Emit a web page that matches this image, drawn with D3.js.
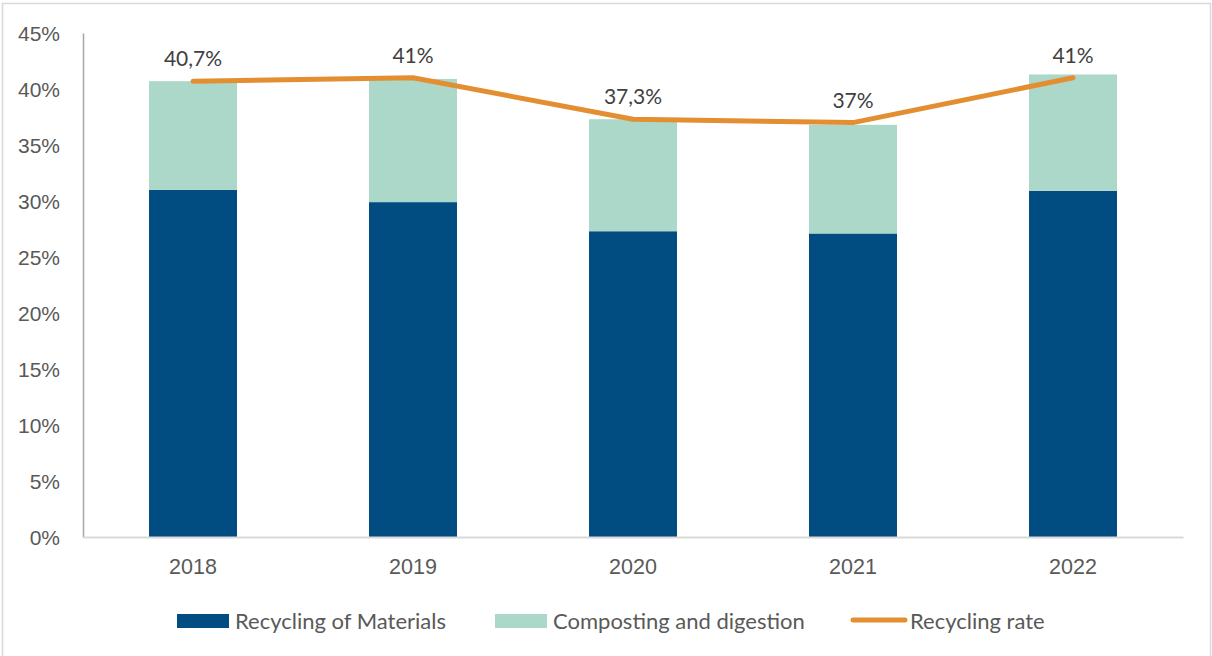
<!DOCTYPE html>
<html>
<head>
<meta charset="utf-8">
<script src="https://cdn.jsdelivr.net/npm/d3@7"></script>
<style>
  html, body { margin: 0; padding: 0; background: #fff; }
  svg { display: block; font-family: Lato, "Liberation Sans", sans-serif; }
</style>
</head>
<body>
<svg id="chart" width="1212" height="656"></svg>
<script>
// Years on the x axis
const years = ["2018", "2019", "2020", "2021", "2022"];
// Share of waste recycled as materials (%)
const recyclingMaterials = [31.0, 29.9, 27.3, 27.1, 30.9];
// Share of waste composted or digested (%)
const compostingDigestion = [9.7, 11.0, 10.0, 9.7, 10.4];
// Overall recycling rate (%)
const recyclingRate = [40.7, 41, 37.3, 37, 41];
// Y axis ticks (%)
const yTicks = [0, 5, 10, 15, 20, 25, 30, 35, 40, 45];

const colors = {
  materials: "#014c80",
  composting: "#acd8c9",
  rate: "#e38e30",
  text: "#595959",
  label: "#404040"
};

const svg = d3.select("#chart");
const W = 1212, H = 656;
const plot = { left: 83, right: 1183, top: 33, bottom: 537 };

// outer frame
svg.append("rect")
  .attr("x", 2.5).attr("y", 3.5)
  .attr("width", W - 4).attr("height", H + 10)
  .attr("fill", "#fff").attr("stroke", "#d9d9d9").attr("stroke-width", 1.5);

const x = d3.scaleBand()
  .domain(years)
  .range([plot.left, plot.right])
  .paddingInner(0.6)
  .paddingOuter(0.3);

const y = d3.scaleLinear()
  .domain([0, 45])
  .range([plot.bottom, plot.top]);

const fmtPct = v => (Number.isInteger(v) ? String(v) : String(v).replace(".", ",")) + "%";

// stacked bars
const rows = years.map((yr, i) => ({
  year: yr,
  materials: recyclingMaterials[i],
  composting: compostingDigestion[i]
}));
const stack = d3.stack().keys(["materials", "composting"])(rows);

svg.append("g").selectAll("g")
  .data(stack)
  .join("g")
  .attr("fill", d => colors[d.key])
  .selectAll("rect")
  .data(d => d)
  .join("rect")
  .attr("x", d => x(d.data.year))
  .attr("width", x.bandwidth())
  .attr("y", d => y(d[1]))
  .attr("height", d => y(d[0]) - y(d[1]));

// y axis
const yAxis = svg.append("g")
  .attr("transform", `translate(${plot.left},0)`)
  .call(d3.axisLeft(y).tickValues(yTicks).tickSize(0).tickPadding(23).tickFormat(d => d + "%"));
yAxis.select(".domain").attr("stroke", "#a6a6a6").attr("stroke-width", 1.5);
yAxis.selectAll("text")
  .attr("fill", colors.text)
  .style("font-size", "21px")
  .attr("dy", "0.35em");

// x axis
const xAxis = svg.append("g")
  .attr("transform", `translate(0,${plot.bottom})`)
  .call(d3.axisBottom(x).tickSize(0).tickPadding(22));
xAxis.select(".domain").attr("stroke", "#d9d9d9").attr("stroke-width", 2);
xAxis.selectAll("text")
  .attr("fill", colors.text)
  .style("font-size", "21.5px");

// recycling rate line
const line = d3.line()
  .x((d, i) => x(years[i]) + x.bandwidth() / 2)
  .y(d => y(d));

svg.append("path")
  .datum(recyclingRate)
  .attr("fill", "none")
  .attr("stroke", colors.rate)
  .attr("stroke-width", 5)
  .attr("stroke-linecap", "round")
  .attr("stroke-linejoin", "round")
  .attr("d", line);

// rate labels
svg.append("g").selectAll("text")
  .data(recyclingRate)
  .join("text")
  .attr("x", (d, i) => x(years[i]) + x.bandwidth() / 2)
  .attr("y", d => y(d) - 15)
  .attr("text-anchor", "middle")
  .attr("fill", colors.label)
  .style("font-size", "21px")
  .text(fmtPct);

// legend
const legend = svg.append("g");
const legendItems = [
  { name: "Recycling of Materials", type: "bar", color: colors.materials, x: 177 },
  { name: "Composting and digestion", type: "bar", color: colors.composting, x: 495 },
  { name: "Recycling rate", type: "line", color: colors.rate, x: 851 }
];
const ly = 621;
legendItems.forEach(it => {
  if (it.type === "bar") {
    legend.append("rect")
      .attr("x", it.x).attr("y", ly - 7)
      .attr("width", 52).attr("height", 14)
      .attr("fill", it.color);
  } else {
    legend.append("line")
      .attr("x1", it.x + 2).attr("x2", it.x + 54)
      .attr("y1", ly - 1).attr("y2", ly - 1)
      .attr("stroke", it.color).attr("stroke-width", 5)
      .attr("stroke-linecap", "round");
  }
  legend.append("text")
    .attr("x", it.x + (it.type === "bar" ? 58 : 59))
    .attr("y", ly)
    .attr("dy", "0.35em")
    .attr("fill", colors.text)
    .style("font-size", "22px")
    .text(it.name);
});
</script>
</body>
</html>
